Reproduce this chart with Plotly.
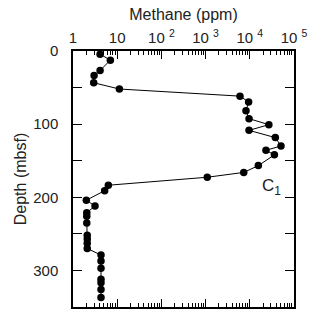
import plotly.graph_objects as go

depth = [4.4, 12.5, 26.6, 33.4, 43.4, 52.0,
         61.7, 69.8, 81.6, 92.5, 100.7, 108.5, 118.4, 129.9, 135.7, 142.0, 156.7, 166.0, 172.6,
         183.5, 191.0, 204.0, 212.0, 221.0, 226.0, 235.0, 252.0, 257.0, 263.0, 270.0,
         279.0, 287.0, 297.0, 312.0, 317.0, 326.0, 337.0]
methane = [4.1, 7.0, 4.1, 3.0, 2.94, 11.2,
           6000, 9400, 8200, 9600, 27000, 9600, 37800, 50800, 23200, 36000, 15600, 7300, 1090,
           6.3, 5.2, 2.0, 3.15, 2.05, 2.05, 2.05, 2.1, 2.1, 2.1, 2.1,
           4.3, 4.3, 4.3, 4.3, 4.3, 4.3, 4.3]

x_tickvals = [1, 10, 100, 1000, 10000, 100000]
x_ticktext = ["1", "10", "10 <sup>2</sup>", "10 <sup>3</sup>", "10 <sup>4</sup>", "10 <sup>5</sup>"]
y_tickvals = [0, 50, 100, 150, 200, 250, 300]
y_ticktext = ["0", "", "100", "", "200", "", "300"]

minor_vals = [m * 10 ** d for d in range(5) for m in range(2, 10)]

font = "Liberation Sans, Arial, sans-serif"
txt = "#222"

fig = go.Figure()
fig.add_trace(go.Scatter(
    x=methane, y=depth, mode="lines+markers",
    line=dict(color="black", width=1),
    marker=dict(color="black", size=7.5),
    showlegend=False,
))

fig.add_annotation(x=4.5, y=186, xref="x", yref="y", text="C<sub>1</sub>",
                   showarrow=False, font=dict(family=font, size=17, color=txt))

fig.update_xaxes(
    type="log", range=[0, 5], side="top",
    tickvals=x_tickvals, ticktext=x_ticktext,
    ticks="inside", ticklen=8, tickwidth=1, tickcolor="black",
    minor=dict(tickvals=minor_vals, ticks="inside", ticklen=4, tickwidth=1, tickcolor="black"),
    showline=True, linewidth=1.5, linecolor="black", mirror="allticks",
    showgrid=False, zeroline=False,
    tickfont=dict(family=font, size=15, color=txt),
    title=dict(text="Methane (ppm)", font=dict(family=font, size=16, color=txt), standoff=2),
)
fig.update_yaxes(
    range=[350, 0],
    tickvals=y_tickvals, ticktext=y_ticktext,
    ticks="inside", ticklen=9, tickwidth=1, tickcolor="black",
    showline=True, linewidth=1.5, linecolor="black", mirror="allticks",
    showgrid=False, zeroline=False, ticklabelstandoff=10,
    tickfont=dict(family=font, size=15, color=txt),
    title=dict(text="Depth (mbsf)", font=dict(family=font, size=16, color=txt), standoff=3),
)

fig.update_layout(
    width=326, height=326,
    margin=dict(l=73, r=32, t=51, b=19),
    paper_bgcolor="white", plot_bgcolor="white",
)

fig.write_html("out.html")
